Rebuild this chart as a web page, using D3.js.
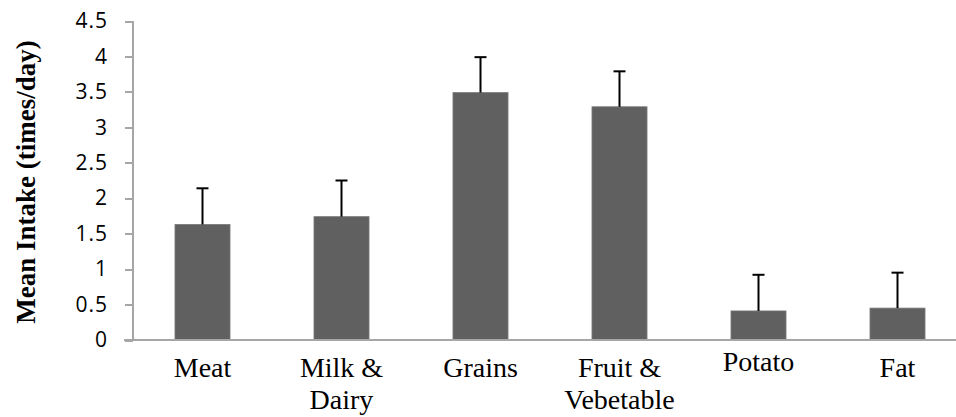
<!DOCTYPE html>
<html>
<head>
<meta charset="utf-8">
<script src="https://cdn.jsdelivr.net/npm/d3@7"></script>
<style>
  body { margin: 0; background: #fff; }
  svg { display: block; }
  .yaxis .tick text { font-family: 'Open Sans', sans-serif; font-size: 21px; letter-spacing: 1px; fill: #000; }
</style>
</head>
<body>
<div id="chart"></div>
<script>
// Data
var categories = [["Meat"], ["Milk &", "Dairy"], ["Grains"], ["Fruit &", "Vebetable"], ["Potato"], ["Fat"]];
var means = [1.63, 1.74, 3.49, 3.29, 0.41, 0.45];
var errors = [0.51, 0.51, 0.50, 0.50, 0.51, 0.50];
var yTicks = [0, 0.5, 1, 1.5, 2, 2.5, 3, 3.5, 4, 4.5];
var yTitle = "Mean Intake (times/day)";

var width = 956, height = 417;
var margin = {top: 21, right: -11, bottom: 77, left: 133};

var svg = d3.select("#chart").append("svg")
  .attr("width", width)
  .attr("height", height);

var keys = categories.map(function(d){ return d.join(" ") });

var x = d3.scaleBand()
  .domain(keys)
  .range([margin.left, width - margin.right])
  .paddingInner(0.604)
  .paddingOuter(0.302);

var y = d3.scaleLinear()
  .domain([0, 4.5])
  .range([height - margin.bottom, margin.top]);

// Bars
svg.append("g").selectAll("rect")
  .data(means)
  .join("rect")
  .attr("x", function(d, i){ return x(keys[i]) })
  .attr("y", function(d){ return y(d) })
  .attr("width", x.bandwidth())
  .attr("height", function(d){ return y(0) - y(d) })
  .attr("fill", "#606060")
  .attr("stroke", "#7a7a7a")
  .attr("stroke-width", 0.8);

// Error bars (upper only)
var eb = svg.append("g").attr("stroke", "#000").attr("stroke-width", 2);
means.forEach(function(m, i){
  var cx = x(keys[i]) + x.bandwidth() / 2;
  eb.append("line")
    .attr("x1", cx).attr("x2", cx)
    .attr("y1", y(m)).attr("y2", y(m + errors[i]));
  eb.append("line")
    .attr("x1", cx - 6).attr("x2", cx + 6)
    .attr("y1", y(m + errors[i])).attr("y2", y(m + errors[i]));
});

// Y axis
var yAxis = svg.append("g")
  .attr("class", "yaxis")
  .attr("transform", "translate(" + margin.left + ",0)")
  .call(d3.axisLeft(y).tickValues(yTicks).tickSize(8).tickPadding(17).tickFormat(d3.format("")));
yAxis.select(".domain").attr("stroke", "#a6a6a6").attr("stroke-width", 2)
  .attr("d", "M0," + y(4.5) + "V" + y(0));
yAxis.selectAll(".tick line").attr("stroke", "#a6a6a6").attr("stroke-width", 2);
yAxis.selectAll("path, line").attr("shape-rendering", "crispEdges");

// X axis line
svg.append("line")
  .attr("x1", 124).attr("x2", width)
  .attr("y1", y(0)).attr("y2", y(0))
  .attr("stroke", "#a6a6a6")
  .attr("stroke-width", 2)
  .attr("shape-rendering", "crispEdges");

// Category labels
var lab = svg.append("g")
  .attr("font-family", "'Liberation Serif', 'Times New Roman', serif")
  .attr("font-size", 28)
  .attr("text-anchor", "middle")
  .attr("fill", "#000");
categories.forEach(function(lines, i){
  var t = lab.append("text")
    .attr("x", x(keys[i]) + x.bandwidth() / 2)
    // Excel nudges the single-line Potato label up a little
    .attr("y", y(0) + (keys[i] === "Potato" ? 31 : 37));
  lines.forEach(function(s, j){
    t.append("tspan")
      .attr("x", x(keys[i]) + x.bandwidth() / 2)
      .attr("dy", j === 0 ? 0 : 32)
      .text(s);
  });
});

// Y title
svg.append("text")
  .attr("transform", "translate(35," + 182 + ") rotate(-90)")
  .attr("text-anchor", "middle")
  .attr("font-family", "'Liberation Serif', 'Times New Roman', serif")
  .attr("font-size", 27)
  .attr("font-weight", "bold")
  .text(yTitle);
</script>
</body>
</html>
